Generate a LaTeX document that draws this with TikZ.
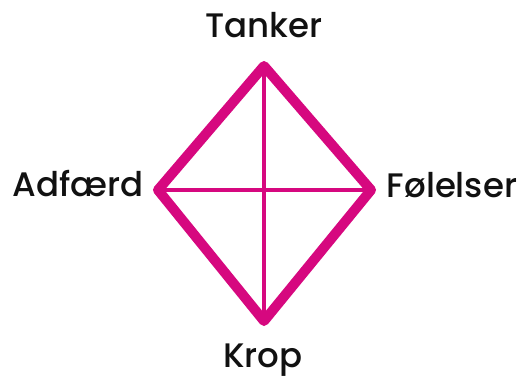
\documentclass[tikz,border=0pt]{standalone}
\usepackage{fontspec}
\setmainfont{Poppins}[UprightFont=* Medium]
\definecolor{mag}{RGB}{214,8,127}
\definecolor{ink}{RGB}{17,17,17}
\begin{document}
\begin{tikzpicture}[x=1pt,y=-1pt,
  lbl/.style={text=ink,font=\fontsize{34}{38}\selectfont,inner sep=0pt,anchor=base},
  outer/.style={draw=mag,line width=10pt,line join=round},
  inner/.style={draw=mag,line width=4pt}]
\useasboundingbox (0,0) rectangle (520,378);
\coordinate (T) at (264,66);
\coordinate (B) at (264,321);
\coordinate (L) at (158,190);
\coordinate (R) at (371,190);
\draw[inner] (T) -- (B);
\draw[inner] (L) -- (R);
\draw[outer] (T) -- (R) -- (B) -- (L) -- cycle;
\node[lbl] (tanker) at (264,37) {Tanker};
\node[lbl] (adfaerd) at (78,196) {Adfærd};
\node[lbl] (folelser) at (452,197) {Følelser};
\node[lbl] (krop) at (263,367) {Krop};
\end{tikzpicture}
\end{document}
